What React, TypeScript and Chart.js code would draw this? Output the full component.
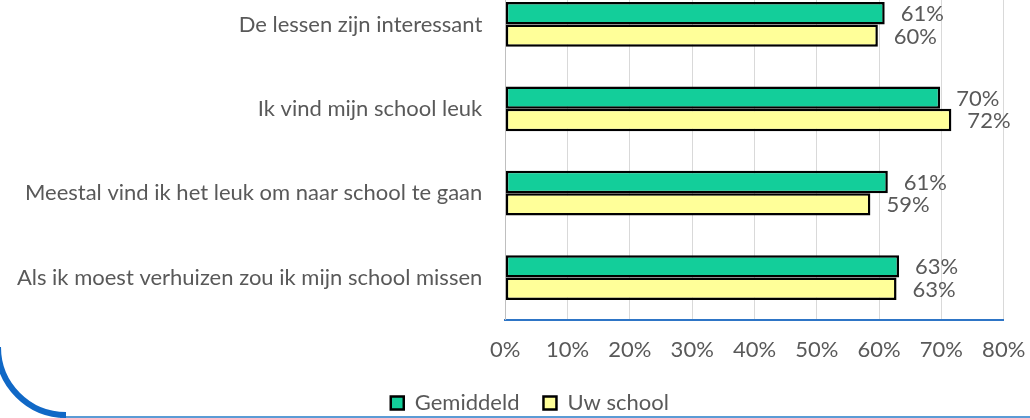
import React, { useEffect, useRef } from "react";
import { Chart, registerables } from "chart.js";

Chart.register(...registerables);

const categories = [
  "De lessen zijn interessant",
  "Ik vind mijn school leuk",
  "Meestal vind ik het leuk om naar school te gaan",
  "Als ik moest verhuizen zou ik mijn school missen",
];
const gemiddeld = [60.9, 69.8, 61.4, 63.2];
const uwSchool = [59.8, 71.6, 58.6, 62.8];
const seriesNames = ["Gemiddeld", "Uw school"];
const xMin = 0;
const xMax = 80;
const xStep = 10;

const T = 40; // hidden top offset (chart is cropped at the top)
const W = 1030;
const H = 418 + T;
const FONT = "Lato";
const FS = 22;
const TEXT = "#595959";

const dataLabels = {
  id: "dataLabels",
  afterDatasetsDraw(chart: any) {
    const ctx = chart.ctx;
    ctx.save();
    ctx.font = `${FS}px ${FONT}`;
    ctx.fillStyle = TEXT;
    ctx.textAlign = "left";
    ctx.textBaseline = "middle";
    chart.data.datasets.forEach((ds: any, i: number) => {
      const meta = chart.getDatasetMeta(i);
      meta.data.forEach((el: any, j: number) => {
        const v = ds.data[j];
        ctx.fillText(Math.round(v) + "%", el.x + 16, el.y + 1);
      });
    });
    ctx.restore();
  },
};

const legendShift = {
  id: "legendShift",
  afterLayout(chart: any) {
    const l = chart.legend;
    if (!l) return;
    l.left += 28;
    l.right += 28;
    l.top += 8;
    l.bottom += 8;
  },
};

const decoration = {
  id: "decoration",
  afterDraw(chart: any) {
    const ctx = chart.ctx;
    ctx.save();
    ctx.strokeStyle = "#5B9BD5";
    ctx.lineWidth = 2;
    ctx.beginPath();
    ctx.moveTo(60, 417 + T);
    ctx.lineTo(W, 417 + T);
    ctx.stroke();
    ctx.strokeStyle = "#1068C6";
    ctx.lineWidth = 6;
    ctx.beginPath();
    ctx.arc(66, 347 + T, 68, Math.PI / 2, Math.PI);
    ctx.stroke();
    ctx.restore();
  },
};

export default function App() {
  const ref = useRef<HTMLCanvasElement>(null);
  useEffect(() => {
    const chart = new Chart(ref.current as HTMLCanvasElement, {
      type: "bar",
      data: {
        labels: categories,
        datasets: [
          {
            label: seriesNames[0],
            data: gemiddeld,
            backgroundColor: "#13CE9A",
            borderColor: "#000000",
            borderWidth: 2.5,
            borderSkipped: false,
            barPercentage: 1,
            categoryPercentage: 0.53,
          },
          {
            label: seriesNames[1],
            data: uwSchool,
            backgroundColor: "#FFFF99",
            borderColor: "#000000",
            borderWidth: 2.5,
            borderSkipped: false,
            barPercentage: 1,
            categoryPercentage: 0.53,
          },
        ],
      },
      options: {
        indexAxis: "y",
        animation: false,
        responsive: false,
        maintainAspectRatio: false,
        layout: { padding: { top: 22.3, left: 0, right: 26.3, bottom: 2 } },
        scales: {
          x: {
            min: xMin,
            max: xMax,
            afterFit(scale: any) {
              scale.height = 40.3;
              scale.paddingLeft = 0;
              scale.paddingRight = 0;
            },
            grid: { color: "#D9D9D9", lineWidth: 1, drawTicks: false },
            border: { color: "#2E75C6", width: 2 },
            ticks: {
              stepSize: xStep,
              padding: 17,
              color: TEXT,
              font: { family: FONT, size: FS },
              callback: (v: any) => v + "%",
            },
          },
          y: {
            afterFit(scale: any) {
              scale.width = 505.3;
              scale.paddingTop = 0;
              scale.paddingBottom = 0;
            },
            grid: { display: false, drawTicks: false },
            border: { color: "#BFBFBF", width: 1 },
            ticks: {
              padding: 23,
              color: TEXT,
              font: { family: FONT, size: FS },
              autoSkip: false,
            },
          },
        },
        plugins: {
          legend: {
            position: "bottom",
            labels: {
              boxWidth: 13,
              boxHeight: 13,
              padding: 24,
              color: TEXT,
              font: { family: FONT, size: FS },
            },
          },
          tooltip: { enabled: false },
        },
      },
      plugins: [dataLabels, legendShift, decoration],
    });
    return () => chart.destroy();
  }, []);

  return (
    <div style={{ position: "absolute", left: 0, top: 0, width: W, height: 418, overflow: "hidden", background: "#fff" }}>
      <div style={{ position: "absolute", left: 0, top: -T, width: W, height: H }}>
        <canvas ref={ref} width={W} height={H} style={{ width: W, height: H, display: "block" }} />
      </div>
    </div>
  );
}
